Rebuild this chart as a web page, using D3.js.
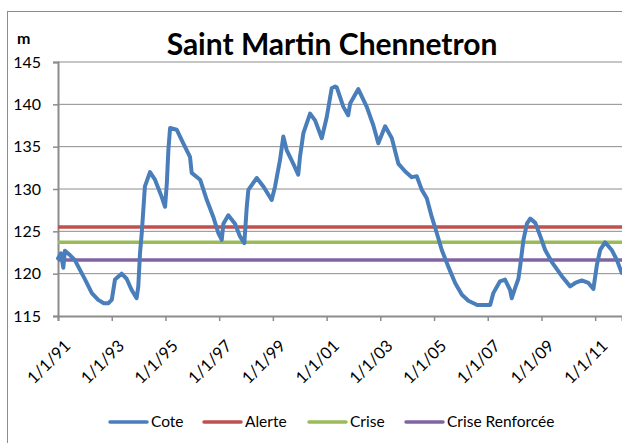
<!DOCTYPE html>
<html>
<head>
<meta charset="utf-8">
<script src="https://cdn.jsdelivr.net/npm/d3@7"></script>
<style>
  body { margin: 0; background: #fff; }
  svg { display: block; font-family: Lato, "Noto Sans", sans-serif; }
</style>
</head>
<body>
<div id="chart"></div>
<script>
// Water level readings (date, metres).
const coteDates = [
  "1991-01-01", "1991-02-10", "1991-03-14", "1991-04-05", "1991-06-12", "1991-08-18",
  "1992-01-05", "1992-04-05", "1992-07-01", "1992-09-15", "1992-11-14", "1993-01-01",
  "1993-02-14", "1993-05-15", "1993-07-22", "1993-09-27", "1993-12-05", "1993-12-28",
  "1994-01-20", "1994-02-13", "1994-03-06", "1994-03-28", "1994-06-05", "1994-08-12",
  "1994-11-10", "1994-12-27", "1995-01-20", "1995-02-10", "1995-03-05", "1995-06-03",
  "1995-09-01", "1995-12-01", "1995-12-24", "1996-04-17", "1996-07-17", "1996-10-13",
  "1996-12-20", "1997-02-05", "1997-02-27", "1997-05-05", "1997-08-04", "1997-10-11",
  "1997-12-09", "1998-01-11", "1998-02-02", "1998-05-27", "1998-08-25", "1998-12-16",
  "1999-01-31", "1999-04-08", "1999-05-23", "1999-07-08", "1999-10-05", "1999-12-12",
  "2000-01-05", "2000-02-20", "2000-05-21", "2000-07-28", "2000-10-27", "2001-01-03",
  "2001-03-11", "2001-04-26", "2001-05-19", "2001-08-17", "2001-10-21", "2001-11-17",
  "2002-03-08", "2002-07-01", "2002-09-29", "2002-12-05", "2003-03-08", "2003-06-07",
  "2003-09-03", "2003-12-03", "2004-03-03", "2004-05-11", "2004-07-18", "2004-09-24",
  "2004-12-01", "2005-02-07", "2005-04-16", "2005-07-15", "2005-10-15", "2006-01-15",
  "2006-04-13", "2006-08-11", "2007-02-03", "2007-03-18", "2007-06-17", "2007-08-24",
  "2007-10-31", "2007-11-24", "2008-01-08", "2008-02-22", "2008-03-16", "2008-05-01",
  "2008-06-17", "2008-08-01", "2008-10-09", "2008-12-17", "2009-02-20", "2009-05-20",
  "2009-10-05", "2010-01-26", "2010-04-05", "2010-07-03", "2010-10-01", "2010-12-08",
  "2011-01-24", "2011-03-10", "2011-05-16", "2011-08-14", "2011-10-24", "2011-12-28"
];
const coteValues = [
  121.8, 122.4, 120.7, 122.7, 122.2, 121.6,
  119.3, 117.7, 116.9, 116.5, 116.5, 116.9,
  119.3, 120.0, 119.4, 118.1, 117.1, 118.5,
  122.4, 124.8, 127.5, 130.3, 132.0, 131.1,
  129.1, 127.9, 130.7, 134.6, 137.2, 137.0,
  135.4, 133.8, 131.9, 131.1, 128.7, 126.7,
  124.8, 124.0, 125.9, 126.9, 125.9, 124.4,
  123.6, 127.9, 129.9, 131.3, 130.3, 128.7,
  130.3, 133.4, 136.2, 134.6, 133.0, 131.7,
  133.8, 136.6, 138.9, 138.1, 136.0, 138.5,
  141.9, 142.1, 142.0, 139.7, 138.7, 140.1,
  141.8, 139.7, 137.5, 135.4, 137.4, 136.0,
  133.0, 132.1, 131.4, 131.5, 129.9, 128.9,
  126.7, 124.8, 122.8, 120.8, 118.9, 117.5,
  116.8, 116.3, 116.3, 117.7, 119.1, 119.3,
  118.1, 117.1, 118.3, 119.4, 120.8, 124.0,
  125.9, 126.5, 126.0, 124.4, 122.8, 121.4,
  119.7, 118.5, 118.9, 119.2, 118.9, 118.2,
  121.0, 122.8, 123.7, 122.8, 121.6, 120.1
];

// Threshold levels (horizontal lines).
const seriesNames = ["Cote", "Alerte", "Crise", "Crise Renforcée"];
const seriesColors = ["#4a7ebb", "#c0504d", "#9bbb59", "#8064a2"];
const thresholdValues = [125.5, 123.7, 121.6];

const yTicks = [115, 120, 125, 130, 135, 140, 145];
const xTickYears = [1991, 1993, 1995, 1997, 1999, 2001, 2003, 2005, 2007, 2009, 2011];
const xStart = "1991-01-01", xEnd = "2012-01-01";

const W = 622, H = 443;
const margin = { top: 62, right: 0, bottom: 127, left: 58 };
const parse = d3.timeParse("%Y-%m-%d");
const cote = coteDates.map((d, i) => ({ date: parse(d), value: coteValues[i] }));

const svg = d3.select("#chart").append("svg")
  .attr("width", W)
  .attr("height", H);

// Chart area border (right and bottom edges fall outside the picture).
svg.append("rect")
  .attr("x", 7.5).attr("y", 11.5)
  .attr("width", 700).attr("height", 500)
  .attr("fill", "none")
  .attr("stroke", "#8c8c8c")
  .attr("stroke-width", 1);

const x = d3.scaleTime()
  .domain([parse(xStart), parse(xEnd)])
  .range([margin.left, W - margin.right]);
const y = d3.scaleLinear()
  .domain([115, 145])
  .range([H - margin.bottom, margin.top]);

// Horizontal gridlines.
svg.append("g")
  .selectAll("line")
  .data(yTicks.slice(1))
  .join("line")
  .attr("x1", margin.left).attr("x2", W)
  .attr("y1", d => y(d)).attr("y2", d => y(d))
  .attr("stroke", "#8c8c8c")
  .attr("stroke-width", 1);

// Y axis.
const yAxis = svg.append("g")
  .attr("transform", `translate(${margin.left},0)`)
  .call(d3.axisLeft(y).tickValues(yTicks).tickSize(5).tickPadding(12));
yAxis.select(".domain").attr("stroke", "#8c8c8c").attr("stroke-width", 2);
yAxis.selectAll(".tick line").attr("stroke", "#8c8c8c").attr("stroke-width", 1.5);
yAxis.selectAll(".tick text")
  .attr("fill", "#000")
  .style("font-size", "16px")
  .style("font-family", "Lato, sans-serif");

// X axis.
const fmt = d => `${d.getMonth() + 1}/${d.getDate()}/${d3.timeFormat("%y")(d)}`;
const xAxis = svg.append("g")
  .attr("transform", `translate(0,${H - margin.bottom})`)
  .call(d3.axisBottom(x)
    .tickValues(xTickYears.map(yr => new Date(yr, 0, 1)))
    .tickSize(5)
    .tickFormat(fmt));
xAxis.select(".domain").attr("stroke", "#8c8c8c").attr("stroke-width", 2);
xAxis.selectAll(".tick line").attr("stroke", "#8c8c8c").attr("stroke-width", 1.5);
xAxis.selectAll(".tick text")
  .attr("fill", "#000")
  .attr("text-anchor", "end")
  .attr("dominant-baseline", "hanging")
  .attr("x", 4)
  .attr("y", 22)
  .attr("dy", null)
  .attr("transform", "rotate(-45, 4, 22)")
  .style("font-size", "16.5px")
  .style("font-family", "Lato, sans-serif");

// Threshold lines.
svg.append("g")
  .selectAll("line")
  .data(thresholdValues)
  .join("line")
  .attr("x1", margin.left).attr("x2", W)
  .attr("y1", d => y(d)).attr("y2", d => y(d))
  .attr("stroke", (d, i) => seriesColors[i + 1])
  .attr("stroke-width", 3.5);

// Cote line.
const line = d3.line()
  .x(d => x(d.date))
  .y(d => y(d.value));
svg.append("path")
  .datum(cote)
  .attr("fill", "none")
  .attr("stroke", seriesColors[0])
  .attr("stroke-width", 4)
  .attr("stroke-linejoin", "round")
  .attr("stroke-linecap", "round")
  .attr("d", line);

// Title and unit.
svg.append("text")
  .attr("x", 332).attr("y", 55)
  .attr("text-anchor", "middle")
  .style("font-size", "30px")
  .style("font-weight", "bold")
  .text("Saint Martin Chennetron");

svg.append("text")
  .attr("x", 17).attr("y", 44)
  .style("font-size", "16px")
  .style("font-weight", "bold")
  .text("m");

// Legend.
const legendX = [110, 204, 309, 406];
const legend = svg.append("g").attr("transform", "translate(0,422)");
const items = legend.selectAll("g")
  .data(seriesNames)
  .join("g")
  .attr("transform", (d, i) => `translate(${legendX[i]},0)`);
items.append("line")
  .attr("x1", 0).attr("x2", 37)
  .attr("stroke", (d, i) => seriesColors[i])
  .attr("stroke-width", 3.5)
  .attr("stroke-linecap", "round");
items.append("text")
  .attr("x", 41)
  .attr("dy", "0.35em")
  .style("font-size", "15.5px")
  .text(d => d);
</script>
</body>
</html>
